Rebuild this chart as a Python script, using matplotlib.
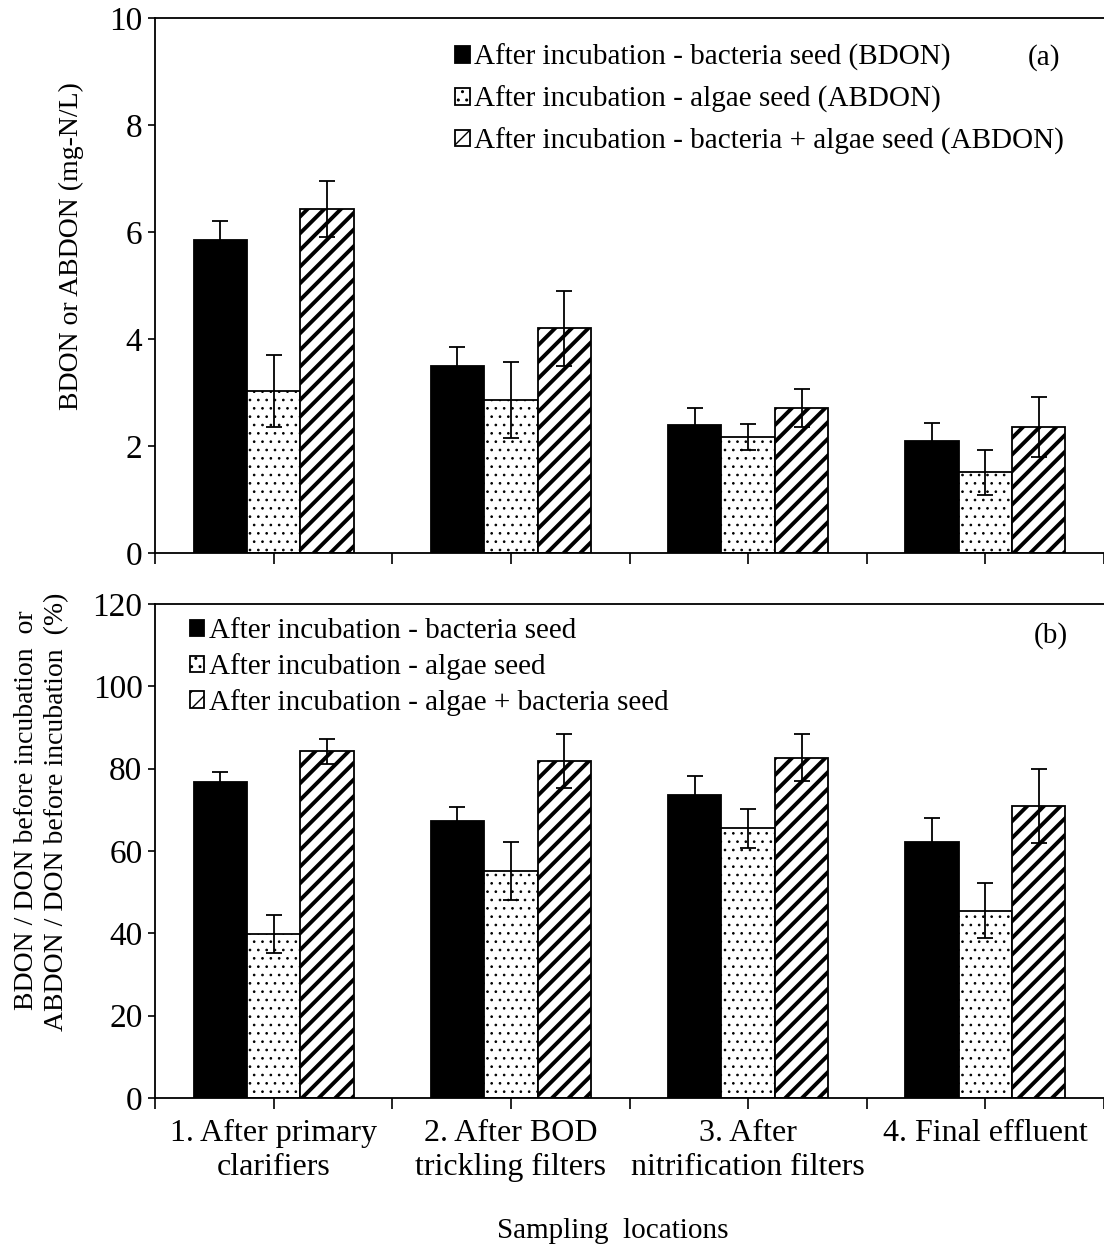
#BDON / ABDON bar chart, two panels
import numpy as np
import matplotlib.pyplot as plt
from matplotlib.ticker import FixedLocator

plt.rcParams['font.family'] = ['Liberation Serif', 'DejaVu Serif']

#Data
locations = ['1. After primary\nclarifiers', '2. After BOD\ntrickling filters',
             '3. After\nnitrification filters', '4. Final effluent']

#panel (a), mg-N/L
a_bact = [5.85, 3.50, 2.39, 2.09]
a_bact_err = [0.36, 0.35, 0.32, 0.34]
a_algae = [3.03, 2.86, 2.17, 1.51]
a_algae_err = [0.67, 0.71, 0.25, 0.42]
a_both = [6.43, 4.20, 2.71, 2.36]
a_both_err = [0.52, 0.70, 0.35, 0.56]

#panel (b), %
b_bact = [76.7, 67.4, 73.5, 62.3]
b_bact_err = [2.4, 3.2, 4.6, 5.6]
b_algae = [39.9, 55.2, 65.5, 45.5]
b_algae_err = [4.6, 7.0, 4.7, 6.7]
b_both = [84.2, 81.9, 82.7, 71.0]
b_both_err = [3.0, 6.5, 5.7, 9.0]

a_labels = ['After incubation - bacteria seed (BDON)',
            'After incubation - algae seed (ABDON)',
            'After incubation - bacteria + algae seed (ABDON)']
b_labels = ['After incubation - bacteria seed',
            'After incubation - algae seed',
            'After incubation - algae + bacteria seed']

W, H = 1104, 1251
fig = plt.figure(figsize=(W / 100, H / 100), dpi=100)
ax1 = fig.add_axes([155 / W, 1 - 553 / H, (W - 155) / W, (553 - 18) / H])
ax2 = fig.add_axes([155 / W, 1 - 1098 / H, (W - 155) / W, (1098 - 604) / H])

x = np.arange(len(locations))
bw = 0.225

#fill, hatch, hatch line width
styles = [('black', None, 1.0), ('white', '..', 0.7), ('white', '//', 2.8)]


def draw(ax, vals, errs, labels):
    handles = []
    for i in range(3):
        fc, hatch, hlw = styles[i]
        with plt.rc_context({'hatch.linewidth': hlw}):
            h = ax.bar(x + (i - 1) * bw, vals[i], bw, facecolor=fc, hatch=hatch,
                       edgecolor='black', linewidth=1.3, label=labels[i])
            for p in h:
                if hasattr(p, 'set_hatch_linewidth'):
                    p.set_hatch_linewidth(hlw)
        ax.errorbar(x + (i - 1) * bw, vals[i], yerr=errs[i], fmt='none',
                    ecolor='black', elinewidth=1.3, capsize=5.5, capthick=1.3)
        handles.append(h)
    ax.set_xlim(-0.5, 3.5)
    ax.spines['right'].set_visible(False)
    for s in ['left', 'bottom', 'top']:
        ax.spines[s].set_linewidth(1.3)
    ax.xaxis.set_major_locator(FixedLocator(x))
    ax.xaxis.set_minor_locator(FixedLocator(np.arange(-0.5, 4, 1)))
    ax.tick_params(axis='x', which='both', direction='out', length=8, width=1.2)
    ax.tick_params(axis='y', direction='out', length=5, width=1.2, labelsize=24, pad=4)
    return handles


def add_legend(ax, handles, anchor, spacing):
    with plt.rc_context({'hatch.linewidth': 1.0}):
        ax.legend(handles=handles, loc='upper left', bbox_to_anchor=anchor, frameon=False,
                  fontsize=21, handlelength=0.5, handleheight=0.5, handletextpad=0.15,
                  labelspacing=spacing, borderaxespad=0.3)


h1 = draw(ax1, [a_bact, a_algae, a_both], [a_bact_err, a_algae_err, a_both_err], a_labels)
ax1.set_ylim(0, 10)
ax1.set_yticks(np.arange(0, 11, 2))
ax1.set_xticklabels([])
add_legend(ax1, h1, (0.295, 0.99), 0.5)
ax1.text(0.937, 0.927, '(a)', transform=ax1.transAxes, fontsize=21, ha='center', va='center')

h2 = draw(ax2, [b_bact, b_algae, b_both], [b_bact_err, b_algae_err, b_both_err], b_labels)
ax2.set_ylim(0, 120)
ax2.set_yticks(np.arange(0, 121, 20))
ax2.set_xticklabels(locations, fontsize=23, linespacing=1.25)
ax2.tick_params(axis='x', which='major', pad=7)
add_legend(ax2, h2, (0.015, 1.012), 0.3)
ax2.text(0.944, 0.937, '(b)', transform=ax2.transAxes, fontsize=21, ha='center', va='center')

fig.text(71 / W, 1 - 246 / H, 'BDON or ABDON (mg-N/L)', rotation=90,
         fontsize=20, ha='center', va='center')
fig.text(27 / W, 1 - 810 / H, 'BDON / DON before incubation  or', rotation=90,
         fontsize=20, ha='center', va='center')
fig.text(57 / W, 1 - 812 / H, 'ABDON / DON before incubation  (%)', rotation=90,
         fontsize=20, ha='center', va='center')
fig.text(613 / W, 1 - 1231 / H, 'Sampling  locations', fontsize=21, ha='center', va='center')

fig.savefig('out.png', dpi=100)
